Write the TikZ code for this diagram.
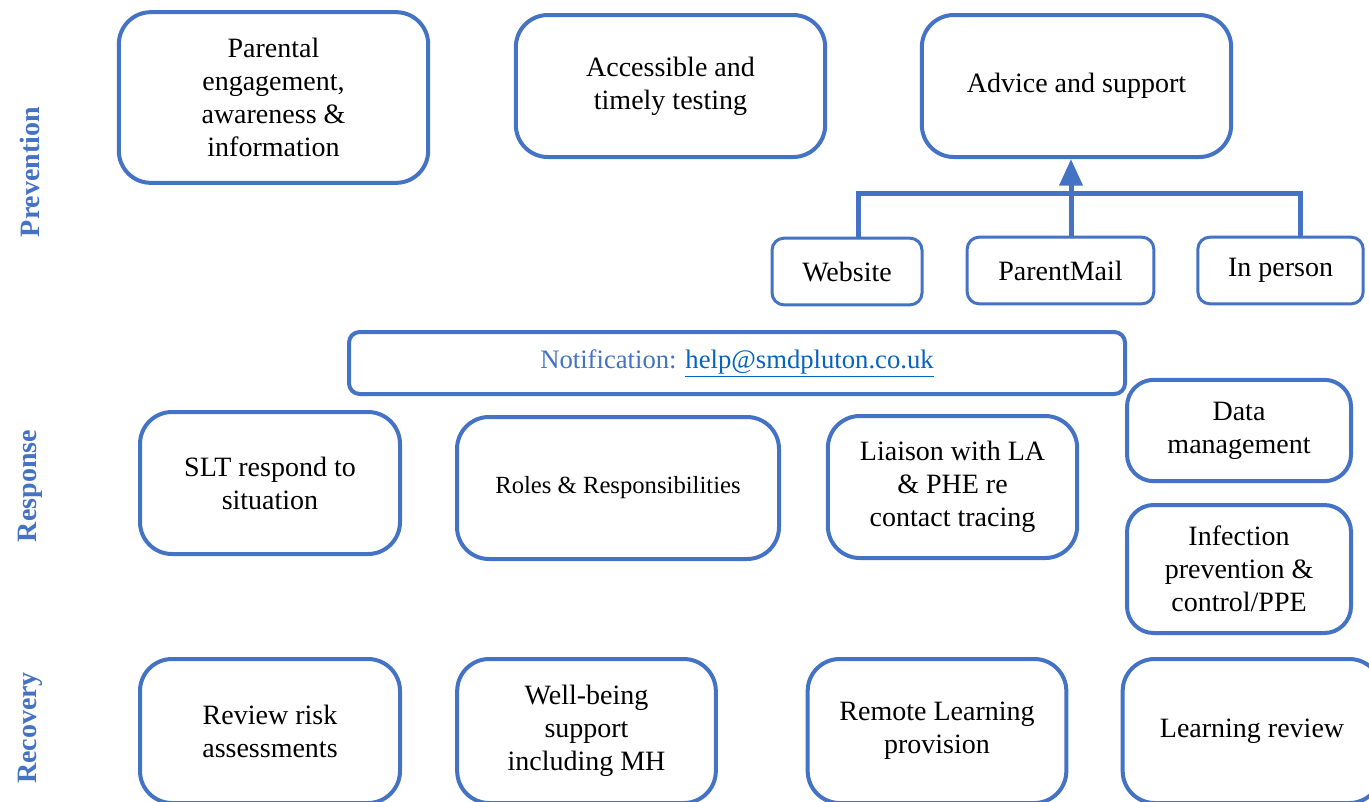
\documentclass[tikz,border=0pt]{standalone}
\usepackage{fontspec}
\setmainfont{Liberation Serif}
\usepackage{xcolor}
\usetikzlibrary{arrows.meta}
\definecolor{boxblue}{RGB}{68,114,196}
\definecolor{linkblue}{RGB}{5,99,193}
\tikzset{
  box/.style={draw=boxblue, line width=3pt, rounded corners=24pt, align=center, inner sep=0pt,
    font=\fontsize{21}{24.75}\selectfont},
  tab/.style={draw=boxblue, line width=2.25pt, rounded corners=9pt, align=center, inner sep=0pt,
    font=\fontsize{21}{24.75}\selectfont},
  phase/.style={rotate=90, text=boxblue, font=\fontsize{21}{24}\selectfont\bfseries},
  feed/.style={draw=boxblue, line width=3.75pt},
}

\begin{document}
\begin{tikzpicture}[x=0.75pt,y=0.75pt,yscale=-1,xscale=1]
    \useasboundingbox (0,0) rectangle (1369,801);
    \clip (0,0) rectangle (1369,801);

    % Phase labels
    \node[phase] (prevention) at (30,172) {Prevention};
    \node[phase] (response) at (30,486) {Response};
    \node[phase] (recovery) at (30,728) {Recovery};

    %Prevention row
    \node[box, minimum width=232pt, minimum height=128pt] (parental) at (273.5,97.5) {Parental\\engagement,\\awareness \&\\information};
    \node[box, minimum width=232pt, minimum height=106.5pt] (testing) at (670.5,86) {Accessible and\\timely testing};
    \node[box, minimum width=232pt, minimum height=106.5pt] (advice) at (1076.5,86) {Advice and support};

    %Channels
    \node[tab, minimum width=112.5pt, minimum height=50pt] (website) at (847,271.5) {Website};
    \node[tab, minimum width=140pt, minimum height=50pt] (parentmail) at (1060.5,270.5) {ParentMail};
    \node[tab, minimum width=124pt, minimum height=50pt] (inperson) at (1280.5,270.5) {In person};

    \coordinate (busL) at (858,193);
    \coordinate (busR) at (1300,193);
    \coordinate (busM) at (1071,193);
    \draw[feed] (website.north -| busL) -- (busL) -- (busR) -- (busR |- inperson.north);
    \draw[feed, -{Triangle[length=20pt,width=17pt]}] (parentmail.north -| busM) -- (advice.south -| busM);

    %Notification
    \node[tab, line width=3pt, rounded corners=8pt, minimum width=582pt, minimum height=46.5pt,
      font=\fontsize{20}{23}\selectfont] (notify) at (737,363)
      {\textcolor{boxblue}{Notification:} \textcolor{linkblue}{\underline{help@smdpluton.co.uk}}};

    %Response row
    \node[box, minimum width=195pt, minimum height=106.5pt] (slt) at (270,483) {SLT respond to\\situation};
    \node[box, minimum width=241.5pt, minimum height=106.5pt, font=\fontsize{18.5}{22}\selectfont] (roles) at (618,488) {Roles \& Responsibilities};
    \node[box, minimum width=187pt, minimum height=106.5pt] (liaison) at (952.5,487) {Liaison with LA\\\& PHE re\\contact tracing};
    \node[box, rounded corners=20pt, minimum width=168pt, minimum height=76pt] (data) at (1239,430.5) {Data\\management};
    \node[box, rounded corners=20pt, minimum width=168pt, minimum height=96pt] (infection) at (1239,569) {Infection\\prevention \&\\control/PPE};

    %Recovery row
    \node[box, minimum width=195pt, minimum height=108pt] (review) at (270,731) {Review risk\\assessments};
    \node[box, minimum width=194pt, minimum height=108pt] (wellbeing) at (586.5,731) {Well-being\\support\\including MH};
    \node[box, minimum width=194pt, minimum height=108pt] (remote) at (937,731) {Remote Learning\\provision};
    \node[box, minimum width=194pt, minimum height=108pt] (learning) at (1252,731) {Learning review};

\end{tikzpicture}
\end{document}
